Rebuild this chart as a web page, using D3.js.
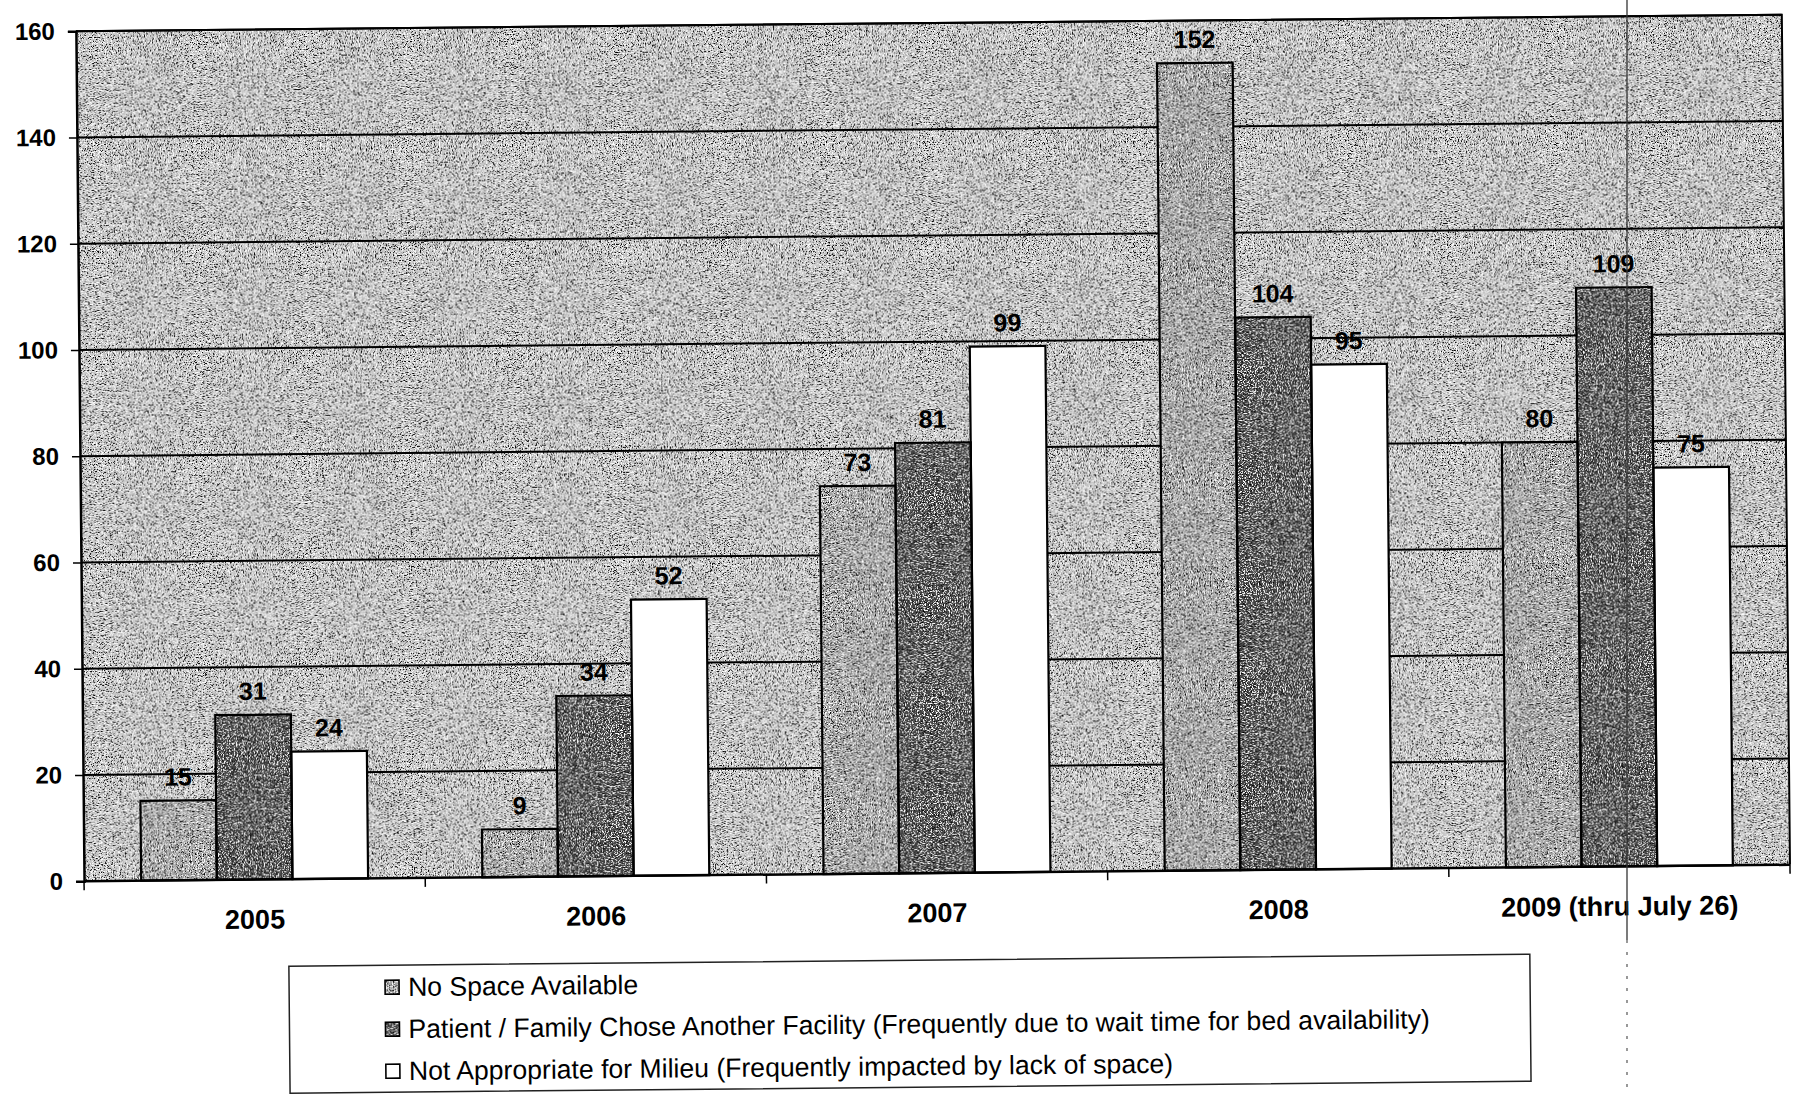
<!DOCTYPE html>
<html>
<head>
<meta charset="utf-8">
<script src="https://cdn.jsdelivr.net/npm/d3@7"></script>
<style>
  html, body { margin: 0; padding: 0; background: #ffffff; }
  svg { display: block; }
  text { font-family: "Liberation Sans", Arial, Helvetica, sans-serif; fill: #000; }
</style>
</head>
<body>
<svg id="chart" width="1793" height="1094"></svg>
<script>
// Referral outcomes by year
const categories = ["2005", "2006", "2007", "2008", "2009 (thru July 26)"];
const seriesNames = [
  "No Space Available",
  "Patient / Family Chose Another Facility (Frequently due to wait time for bed availability)",
  "Not Appropriate for Milieu (Frequently impacted by lack of space)"
];
const noSpaceAvailable = [15, 9, 73, 152, 80];
const choseAnotherFacility = [31, 34, 81, 104, 109];
const notAppropriate = [24, 52, 99, 95, 75];
const yTickValues = [0, 20, 40, 60, 80, 100, 120, 140, 160];

const seriesValues = [noSpaceAvailable, choseAnotherFacility, notAppropriate];
const seriesFill = ["#a2a2a2", "#454545", "#ffffff"];
const seriesGrain = [true, true, false];

const plot = { left: 80, right: 1786, top: 23, bottom: 873 };

const svg = d3.select("#chart");
const defs = svg.append("defs");

// Halftone-like speckle applied to the shaded fills
const f = defs.append("filter")
  .attr("id", "grain")
  .attr("x", 0).attr("y", 0).attr("width", 1).attr("height", 1)
  .attr("color-interpolation-filters", "sRGB");
f.append("feTurbulence")
  .attr("type", "fractalNoise").attr("baseFrequency", 0.85)
  .attr("numOctaves", 2).attr("seed", 11).attr("result", "n");
f.append("feColorMatrix").attr("in", "n").attr("type", "matrix")
  .attr("values", "0 0 0 0 0  0 0 0 0 0  0 0 0 0 0  -9 0 0 0 4.0")
  .attr("result", "dark");
f.append("feColorMatrix").attr("in", "n").attr("type", "matrix")
  .attr("values", "0 0 0 0 1  0 0 0 0 1  0 0 0 0 1  0 9 0 0 -4.7")
  .attr("result", "light");
const merge = f.append("feMerge").attr("result", "m");
merge.append("feMergeNode").attr("in", "SourceGraphic");
merge.append("feMergeNode").attr("in", "dark");
merge.append("feMergeNode").attr("in", "light");
f.append("feComposite").attr("in", "m").attr("in2", "SourceGraphic").attr("operator", "in");

// whole chart sits slightly tilted
const g = svg.append("g").attr("transform", "rotate(-0.55 931 455)");

const x0 = d3.scaleBand()
  .domain(categories)
  .range([plot.left, plot.right])
  .paddingInner(0.335)
  .paddingOuter(0.1675);

const x1 = d3.scaleBand()
  .domain(d3.range(seriesValues.length))
  .range([0, x0.bandwidth()])
  .padding(0);

const y = d3.scaleLinear()
  .domain([0, 160])
  .range([plot.bottom, plot.top]);

// plot background
g.append("rect")
  .attr("x", plot.left).attr("y", plot.top)
  .attr("width", plot.right - plot.left).attr("height", plot.bottom - plot.top)
  .attr("fill", "#c6c6c6")
  .attr("filter", "url(#grain)");

// horizontal gridlines
g.append("g")
  .selectAll("line")
  .data(yTickValues.filter(v => v > 0))
  .join("line")
  .attr("x1", plot.left).attr("x2", plot.right)
  .attr("y1", d => y(d)).attr("y2", d => y(d))
  .attr("stroke", "#000").attr("stroke-width", 2);

// bars
const groups = g.append("g")
  .selectAll("g")
  .data(categories)
  .join("g")
  .attr("transform", d => `translate(${x0(d)},0)`);

groups.each(function (cat, ci) {
  const sel = d3.select(this);
  const data = seriesValues.map((vals, si) => ({ si, v: vals[ci] }));
  sel.selectAll("rect.fill")
    .data(data)
    .join("rect")
    .attr("class", "fill")
    .attr("x", d => x1(d.si))
    .attr("y", d => y(d.v))
    .attr("width", x1.bandwidth())
    .attr("height", d => y(0) - y(d.v))
    .attr("fill", d => seriesFill[d.si])
    .attr("filter", d => seriesGrain[d.si] ? "url(#grain)" : null);
  sel.selectAll("rect.edge")
    .data(data)
    .join("rect")
    .attr("class", "edge")
    .attr("x", d => x1(d.si))
    .attr("y", d => y(d.v))
    .attr("width", x1.bandwidth())
    .attr("height", d => y(0) - y(d.v))
    .attr("fill", "none")
    .attr("stroke", "#000")
    .attr("stroke-width", 2.2);
  sel.selectAll("text.val")
    .data(data)
    .join("text")
    .attr("class", "val")
    .attr("x", d => x1(d.si) + x1.bandwidth() / 2)
    .attr("y", d => y(d.v) - 15)
    .attr("text-anchor", "middle")
    .attr("font-size", 25)
    .attr("font-weight", "bold")
    .text(d => d.v);
});

// frame: top and right edges
g.append("path")
  .attr("d", `M${plot.left},${plot.top}H${plot.right}V${plot.bottom}`)
  .attr("fill", "none").attr("stroke", "#000").attr("stroke-width", 2);

// y axis
const yAxis = g.append("g")
  .attr("transform", `translate(${plot.left},0)`)
  .call(d3.axisLeft(y).tickValues(yTickValues).tickSize(8).tickPadding(13));
yAxis.select(".domain").attr("stroke", "#000").attr("stroke-width", 2.5);
yAxis.selectAll(".tick line").attr("stroke", "#000").attr("stroke-width", 1.5);
yAxis.selectAll(".tick text")
  .attr("font-size", 24).attr("font-weight", "bold")
  .attr("fill", "#000");

// x axis: labels at the groups, ticks on the group boundaries
const xAxis = g.append("g")
  .attr("transform", `translate(0,${plot.bottom})`)
  .call(d3.axisBottom(x0).tickSize(0).tickPadding(30));
xAxis.select(".domain").remove();
xAxis.selectAll(".tick text")
  .attr("font-size", 27).attr("font-weight", "bold")
  .attr("fill", "#000");

g.append("line")
  .attr("x1", plot.left).attr("x2", plot.right)
  .attr("y1", plot.bottom).attr("y2", plot.bottom)
  .attr("stroke", "#000").attr("stroke-width", 2.5);

const boundaries = categories.map(c => x0(c) - x0.step() * x0.paddingInner() / 2)
  .concat([plot.right]);
g.append("g")
  .selectAll("line")
  .data(boundaries)
  .join("line")
  .attr("x1", d => d).attr("x2", d => d)
  .attr("y1", plot.bottom).attr("y2", plot.bottom + 9)
  .attr("stroke", "#000").attr("stroke-width", 1.5);

// legend
const legend = { left: 284, right: 1525, top: 960, bottom: 1087 };
g.append("rect")
  .attr("x", legend.left).attr("y", legend.top)
  .attr("width", legend.right - legend.left)
  .attr("height", legend.bottom - legend.top)
  .attr("fill", "#fff").attr("stroke", "#222").attr("stroke-width", 1.5);

const legendRows = g.append("g")
  .selectAll("g")
  .data(seriesNames)
  .join("g")
  .attr("transform", (d, i) => `translate(380,${991 + i * 42})`);

legendRows.append("rect")
  .attr("x", 0).attr("y", -16)
  .attr("width", 14).attr("height", 14)
  .attr("fill", (d, i) => seriesFill[i])
  .attr("filter", (d, i) => seriesGrain[i] ? "url(#grain)" : null);
legendRows.append("rect")
  .attr("x", 0).attr("y", -16)
  .attr("width", 14).attr("height", 14)
  .attr("fill", "none").attr("stroke", "#000").attr("stroke-width", 1.6);
legendRows.append("text")
  .attr("x", 23).attr("y", 0)
  .attr("font-size", 26.6)
  .text(d => d);

// page crease line running down the right side
svg.append("line")
  .attr("x1", 1627).attr("x2", 1627)
  .attr("y1", 0).attr("y2", 940)
  .attr("stroke", "#333").attr("stroke-width", 1.3);
svg.append("line")
  .attr("x1", 1627).attr("x2", 1627)
  .attr("y1", 940).attr("y2", 1094)
  .attr("stroke", "#555").attr("stroke-width", 1.2)
  .attr("stroke-dasharray", "3 9");
</script>
</body>
</html>
